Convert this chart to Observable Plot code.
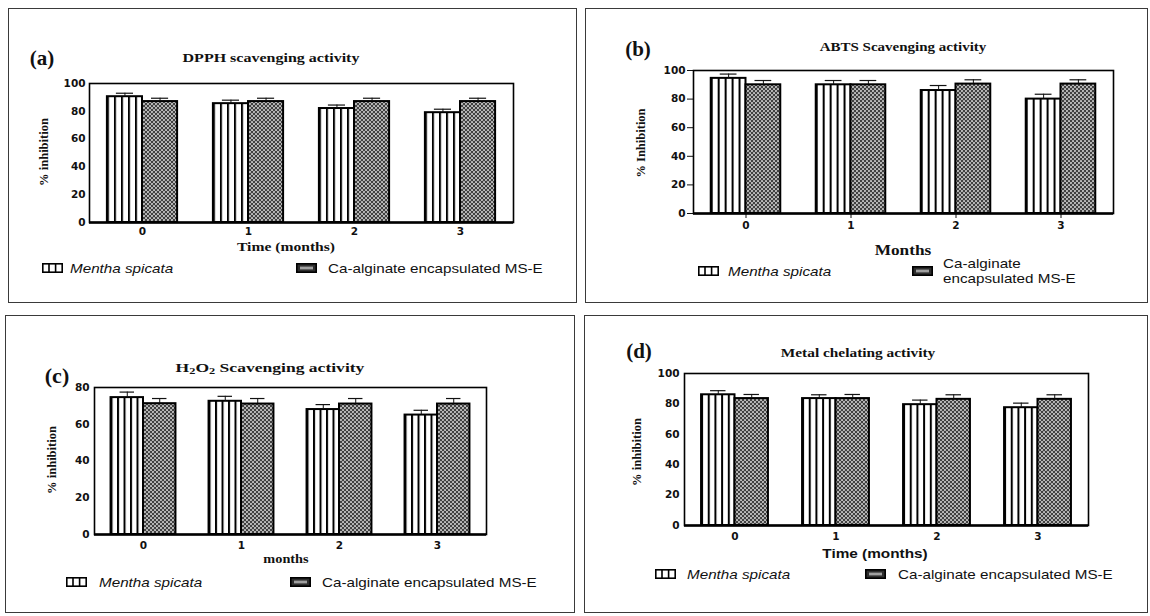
<!DOCTYPE html>
<html><head><meta charset="utf-8">
<script src="https://cdn.jsdelivr.net/npm/d3@7"></script>
<script src="https://cdn.jsdelivr.net/npm/@observablehq/plot@0.6"></script>
<style>
html,body{margin:0;padding:0;background:#fff;}
#page{position:relative;width:1150px;height:616px;overflow:hidden;background:#fff;}
.box{position:absolute;border:1.6px solid #3a3a3a;box-sizing:border-box;}
.t{position:absolute;white-space:nowrap;line-height:1;}
.serif{font-family:"Liberation Serif","Times New Roman",serif;font-weight:bold;color:#111;}
.sans{font-family:"Liberation Sans",Arial,sans-serif;color:#111;}
.plot{position:absolute;}
sub{font-size:70%;vertical-align:-0.25em;line-height:0;}
</style></head><body>
<svg width="0" height="0" style="position:absolute"><defs>
<pattern id="stripes" patternUnits="objectBoundingBox" x="0" y="0" width="0.2" height="1">
 <rect x="0" y="0" width="100" height="1000" fill="#fff"/>
 <rect x="0" y="0" width="2" height="1000" fill="#000"/>
</pattern>
<pattern id="dots" patternUnits="userSpaceOnUse" width="4" height="4">
 <rect width="4" height="4" fill="#404040"/>
 <circle cx="1" cy="1" r="1.05" fill="#c4c4c4"/>
 <circle cx="3" cy="3" r="1.05" fill="#c4c4c4"/>
</pattern>
</defs></svg>
<div id="page"></div>
<script>
// ---------- data ----------
const months = ["0", "1", "2", "3"];
const series = ["Mentha spicata", "Ca-alginate encapsulated MS-E"];
const yTicks100 = [0, 20, 40, 60, 80, 100];
const yTicks80 = [0, 20, 40, 60, 80];

const dpphMentha = [90.5, 85.5, 82, 79];
const dpphMenthaErr = [2.5, 2.5, 2.5, 2.5];
const dpphMSE = [87, 87, 87, 87];
const dpphMSEErr = [2.4, 2.4, 2.4, 2.4];

const abtsMentha = [94.5, 90, 86, 80];
const abtsMenthaErr = [3, 3, 3.5, 3.4];
const abtsMSE = [90, 90, 90.5, 90.5];
const abtsMSEErr = [3, 3, 3, 3];

const h2o2Mentha = [74.5, 72.5, 68, 65];
const h2o2MenthaErr = [3, 2.7, 2.7, 2.6];
const h2o2MSE = [71.2, 71, 71, 71];
const h2o2MSEErr = [2.8, 3, 3, 3];

const metalMentha = [86, 83.5, 79.5, 77.5];
const metalMenthaErr = [2.7, 2.5, 3, 3];
const metalMSE = [83.5, 83.5, 83, 83];
const metalMSEErr = [2.7, 2.7, 3, 3];

// ---------- layout ----------
const page = document.getElementById("page");
const NS = "http://www.w3.org/2000/svg";

function addBox(l, t, r, b) {
  const d = document.createElement("div");
  d.className = "box";
  Object.assign(d.style, {left: l + "px", top: t + "px", width: (r - l) + "px", height: (b - t) + "px"});
  page.appendChild(d);
}

function addText(html, x, y, o = {}) {
  const d = document.createElement("div");
  d.className = "t " + (o.cls || "serif");
  d.innerHTML = html;
  d.style.fontSize = (o.size || 12) + "px";
  if (o.italic) d.style.fontStyle = "italic";
  if (o.weight) d.style.fontWeight = o.weight;
  const sx = o.sx || 1;
  d.style.left = x + "px";
  d.style.top = y + "px";
  if (o.align === "left") {
    d.style.transformOrigin = "left center";
    d.style.transform = `translateY(-50%) scaleX(${sx})`;
  } else {
    d.style.transform = `translate(-50%,-50%) ${o.rot ? `rotate(${o.rot}deg)` : ""} scaleX(${sx})`;
  }
  page.appendChild(d);
}

function swatch(kind, x, cy) {
  const s = document.createElementNS(NS, "svg");
  s.setAttribute("width", 21); s.setAttribute("height", 10);
  Object.assign(s.style, {position: "absolute", left: x + "px", top: (cy - 5) + "px"});
  if (kind === 0) {
    s.innerHTML = `<rect x="0.8" y="0.8" width="19.4" height="8.4" fill="#fff" stroke="#000" stroke-width="1.6"/>
      <rect x="6.2" y="1" width="1.6" height="8" fill="#000"/><rect x="12.8" y="1" width="1.6" height="8" fill="#000"/>`;
  } else {
    s.innerHTML = `<rect x="0.8" y="0.8" width="19.4" height="8.4" fill="#2e2e2e" stroke="#000" stroke-width="1.6"/>
      <rect x="4" y="3.6" width="13" height="2.8" fill="#a0a0a0"/>`;
  }
  page.appendChild(s);
}

function chart(p) {
  const rows = [];
  months.forEach((m, i) => {
    rows.push({month: m, series: series[0], value: p.m[i], err: p.me[i]});
    rows.push({month: m, series: series[1], value: p.s[i], err: p.se[i]});
  });
  const [L, R, T, B] = p.frame;
  const ml = 42, mr = 6, mt = 8, mb = 28;
  const svg = Plot.plot({
    width: R - L + ml + mr,
    height: B - T + mt + mb,
    marginLeft: ml, marginRight: mr, marginTop: mt, marginBottom: mb,
    style: {fontFamily: "DejaVu Sans", fontSize: "10.5px", fontWeight: "bold", color: "#111", background: "transparent", overflow: "visible"},
    fx: {domain: months, padding: 0, axis: "bottom", label: null, tickSize: p.xt[0], tickPadding: p.xt[1]},
    x: {domain: series, paddingInner: 0, paddingOuter: 0.51, axis: null, round: false},
    y: {domain: [0, p.ymax], ticks: p.ticks, tickSize: p.yt[0], tickPadding: p.yt[1], label: null},
    marks: [
      Plot.barY(rows.filter(d => d.series === series[0]), {fx: "month", x: "series", y: "value", fill: "url(#stripes)", stroke: "#000", strokeWidth: 2}),
      Plot.barY(rows.filter(d => d.series === series[1]), {fx: "month", x: "series", y: "value", fill: "url(#dots)", stroke: "#000", strokeWidth: 2}),
      Plot.ruleX(rows, {fx: "month", x: "series", y1: "value", y2: d => d.value + d.err, stroke: "#111", strokeWidth: 1}),
      Plot.tickY(rows, {fx: "month", x: "series", y: d => d.value + d.err, stroke: "#111", strokeWidth: 1.2, insetLeft: 9, insetRight: 9}),
      Plot.ruleY([0], {stroke: "#000", strokeWidth: 2.5}),
      Plot.frame({facet: "super", stroke: "#000", strokeWidth: 1.6})
    ]
  });
  svg.classList.add("plot");
  svg.style.left = (L - ml) + "px";
  svg.style.top = (T - mt) + "px";
  page.appendChild(svg);
}

// ---------- panel (a) ----------
addBox(8, 8, 577, 303);
addText("(a)", 42, 58, {size: 21});
addText("DPPH scavenging activity", 271, 58, {size: 12.5, sx: 1.28});
addText("% inhibition", 44, 152, {size: 12.5, rot: -90});
addText("Time (months)", 286, 246, {size: 13, sx: 1.2});
chart({frame: [89, 513, 83, 222], ymax: 100, ticks: yTicks100, m: dpphMentha, me: dpphMenthaErr, s: dpphMSE, se: dpphMSEErr, yt: [0, 4], xt: [0, 5]});
swatch(0, 42, 268); addText(series[0], 70, 268, {cls: "sans", size: 13, italic: true, sx: 1.17, align: "left"});
swatch(1, 296, 268); addText(series[1], 328, 268, {cls: "sans", size: 13, sx: 1.17, align: "left"});

// ---------- panel (b) ----------
addBox(585, 8, 1148, 303);
addText("(b)", 638, 49, {size: 21});
addText("ABTS Scavenging activity", 903, 47, {size: 12.5, sx: 1.2});
addText("% Inhibition", 641, 143, {size: 12.5, rot: -90});
addText("Months", 903, 250, {size: 15, sx: 1.15});
chart({frame: [693, 1113, 70, 213], ymax: 100, ticks: yTicks100, m: abtsMentha, me: abtsMenthaErr, s: abtsMSE, se: abtsMSEErr, yt: [6, 2], xt: [5, 3]});
swatch(0, 698, 271); addText(series[0], 728, 271, {cls: "sans", size: 13, italic: true, sx: 1.17, align: "left"});
swatch(1, 912, 271);
addText("Ca-alginate", 943, 263, {cls: "sans", size: 13, sx: 1.17, align: "left"});
addText("encapsulated MS-E", 943, 278, {cls: "sans", size: 13, sx: 1.17, align: "left"});

// ---------- panel (c) ----------
addBox(5, 315, 575, 613);
addText("(c)", 57, 376, {size: 22});
addText("H<sub>2</sub>O<sub>2</sub> Scavenging activity", 270, 367, {size: 13, sx: 1.35});
addText("% inhibition", 52, 460, {size: 12.5, rot: -90});
addText("months", 286, 558, {size: 13, sx: 1.1});
chart({frame: [93, 487, 387, 534], ymax: 80, ticks: yTicks80, m: h2o2Mentha, me: h2o2MenthaErr, s: h2o2MSE, se: h2o2MSEErr, yt: [0, 5], xt: [0, 7]});
swatch(0, 66, 582); addText(series[0], 99, 582, {cls: "sans", size: 13, italic: true, sx: 1.17, align: "left"});
swatch(1, 290, 582); addText(series[1], 322, 582, {cls: "sans", size: 13, sx: 1.17, align: "left"});

// ---------- panel (d) ----------
addBox(584, 315, 1148, 613);
addText("(d)", 639, 351, {size: 21});
addText("Metal chelating activity", 858, 353, {size: 12, sx: 1.28});
addText("% inhibition", 637, 452, {size: 12.5, rot: -90});
addText("Time (months)", 875, 553, {cls: "sans", size: 13, weight: "bold", sx: 1.18});
chart({frame: [683, 1088, 373, 525], ymax: 100, ticks: yTicks100, m: metalMentha, me: metalMenthaErr, s: metalMSE, se: metalMSEErr, yt: [0, 5], xt: [0, 7]});
swatch(0, 655, 574); addText(series[0], 687, 574, {cls: "sans", size: 13, italic: true, sx: 1.17, align: "left"});
swatch(1, 865, 574); addText(series[1], 898, 574, {cls: "sans", size: 13, sx: 1.17, align: "left"});
</script>
</body></html>
